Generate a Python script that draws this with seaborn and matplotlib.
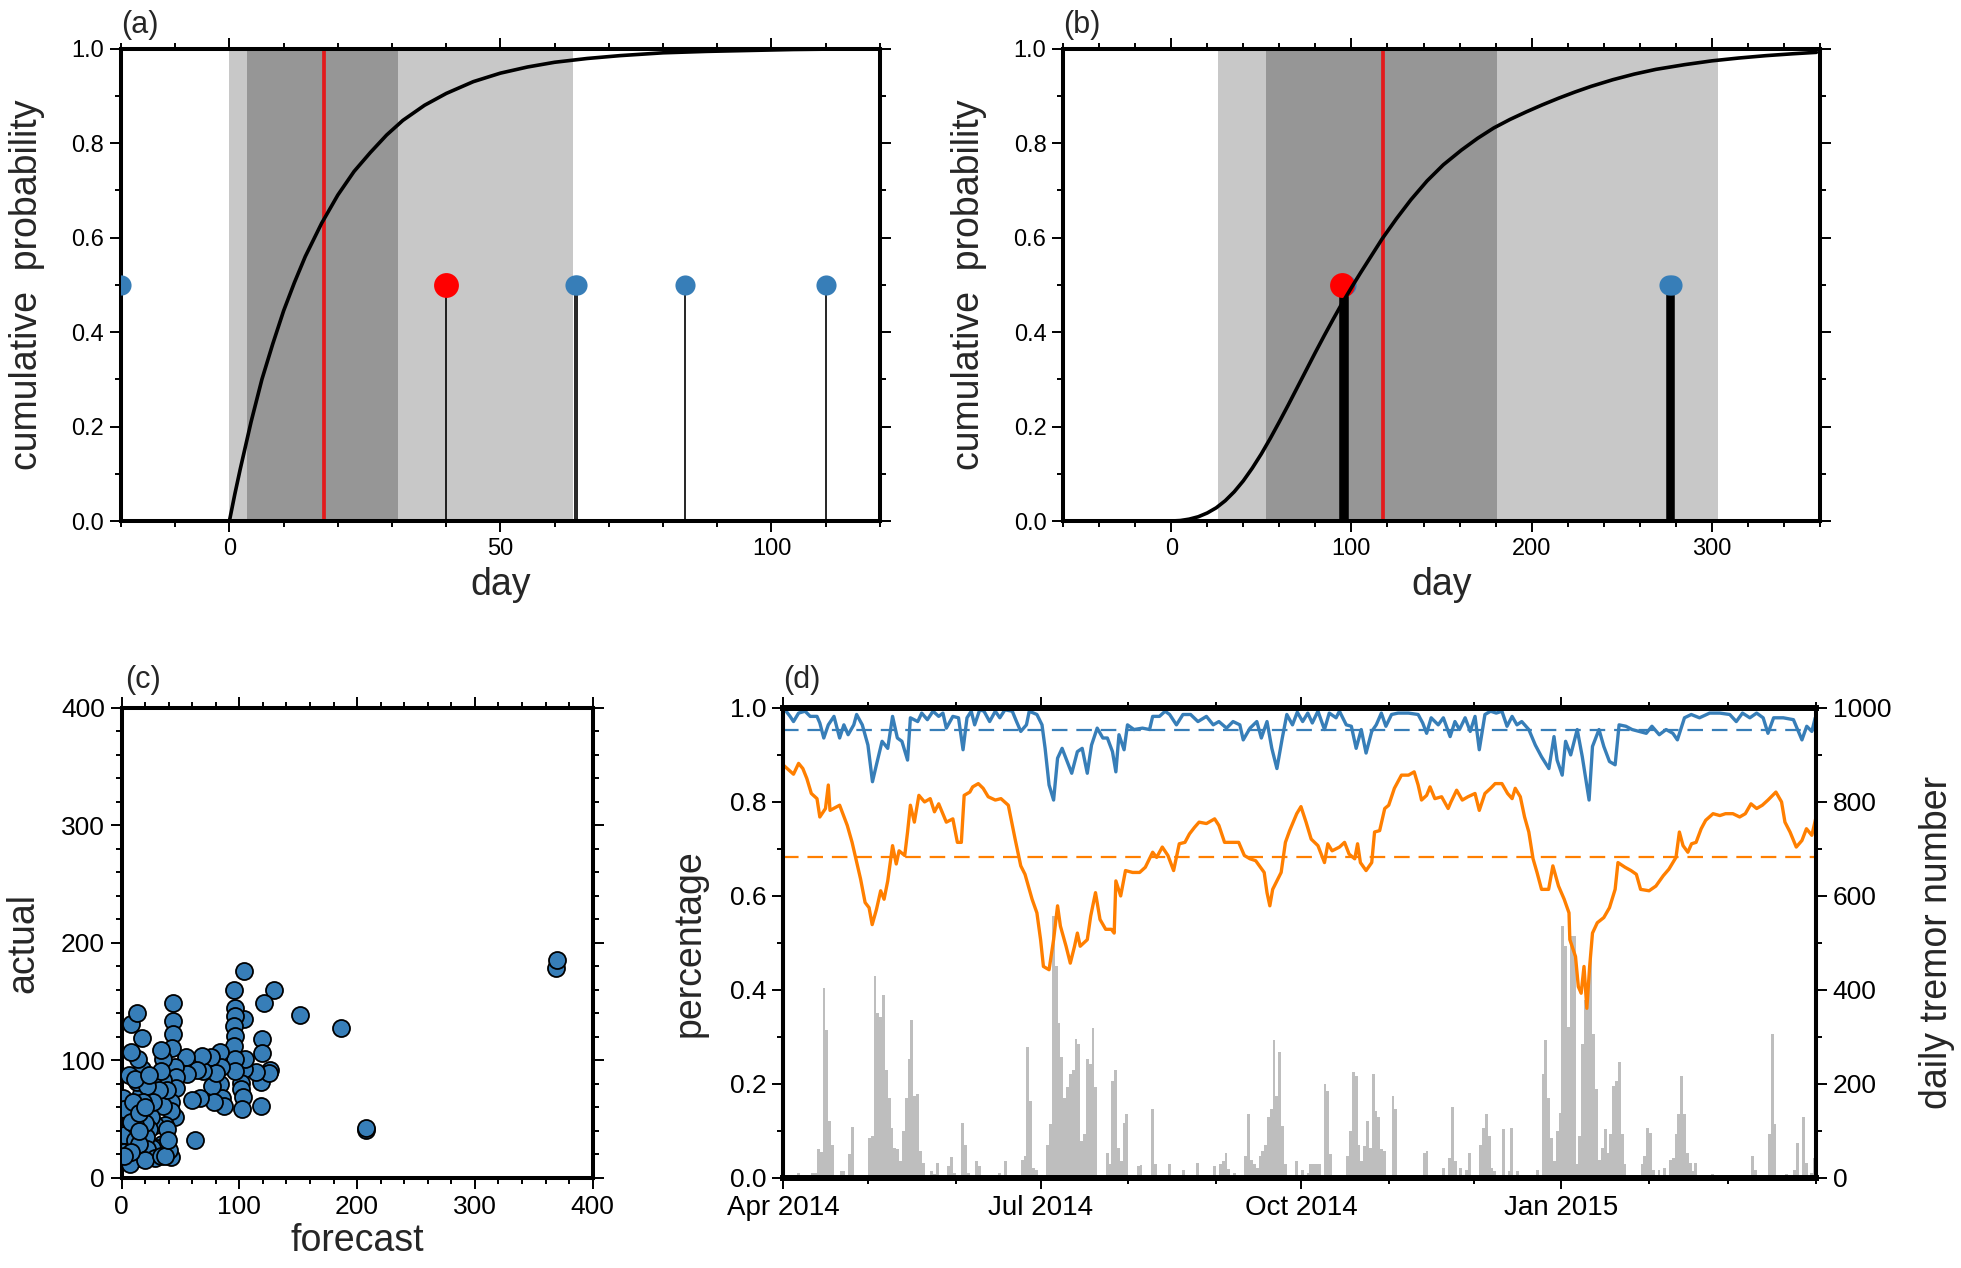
import numpy as np
import pandas as pd
import seaborn as sns
import matplotlib
matplotlib.use('Agg')
import matplotlib.pyplot as plt
import matplotlib.dates as mdates
from matplotlib.ticker import MultipleLocator, FormatStrFormatter, FixedLocator

# ---------------- data ----------------
# (a) forecast CDF and events
cdf_a_day = [-20, 0, 1, 2, 3, 4, 6, 8, 10, 12, 14, 17, 20, 23, 26, 29, 32, 36, 40, 45, 50, 55, 60, 66,
             72, 80, 88, 96, 104, 112]
cdf_a_prob = [0, 0, .057, .11, .16, .21, .30, .375, .445, .505, .56, .63, .69, .74, .78, .817, .848, .88,
              .905, .93, .948, .961, .971, .979, .985, .991, .994, .996, .998, .999]
a_outer = (0, 63.4)
a_inner = (3.2, 31.1)
a_median = 17.4
a_obs_day = [-20, 63.8, 64.2, 84, 110]
a_next_day = [40]

# (b) forecast CDF and events
cdf_b_day = [-60, 0, 5, 10, 15, 20, 25, 30, 35, 40, 45, 50, 55, 60, 65, 70, 75, 80, 85, 90, 95, 100, 105,
             110, 117, 125, 133, 142, 151, 161, 170, 179, 188, 197, 206, 215, 224, 233, 245, 257, 269, 285,
             300, 315, 330, 345, 358]
cdf_b_prob = [0, 0, .001, .004, .009, .017, .028, .043, .062, .085, .112, .142, .175, .21, .246, .283, .32,
              .357, .393, .428, .462, .494, .525, .555, .597, .64, .68, .72, .754, .785, .81, .832, .85,
              .866, .881, .895, .908, .92, .934, .946, .956, .966, .974, .980, .985, .989, .992]
b_outer = (26, 303.6)
b_inner = (52.8, 180.6)
b_median = 117.3
b_obs_day = [97, 276, 278]
b_next_day = [95]

# (c) forecast vs actual
forecast = [368.8, 369.5, 207.4, 207.8, 186.3, 151.3, 129.5, 103.9, 121.2, 95.6, 103.9, 96.6, 96, 95.2, 96,
            95.2, 119, 119, 118.4, 118.4, 126.4, 125.4, 114.2, 103.9, 101, 101.8, 103.2, 102.2, 104.6, 96,
            96, 83.8, 84.8, 83.8, 85.5, 86.6, 76.9, 76.2, 78.6, 80.4, 68.9, 68.2, 66.5, 64, 59.6, 54.7,
            55.4, 62, 43.6, 43.6, 43.6, 42.9, 45.7, 46.4, 46.4, 45.7, 42.3, 42.3, 41.6, 40.5, 35.3, 35.3,
            35.3, 37, 34.6, 30.1, 28.4, 25.6, 24.9, 24.9, 25.6, 23.2, 20.8, 19.7, 16.3, 16.3, 15.2, 12.8,
            17.3, 17, 13.9, 8.3, 8.3, 12.8, 5.9, 5.9, 5.9, 5.9, 5.9, 6.9, 1.4, 2.4, 2.4, 2.4, 11, 11, 21.5,
            14.5, 28.4, 19.7, 33.6, 37, 7.6, 38.8, 33.6, 31.9, 26.7, 21.5, 18, 10, 11, 33.6, 38.8, 39.5,
            23.2, 14.5, 15.2, 19.7, 7.6, 2.4]
actual = [178.4, 185.7, 40.8, 42.8, 128, 139, 160, 176, 148.8, 159.7, 135.6, 144.5, 138, 129, 121, 112.6,
          118, 106, 81.3, 60.9, 91.8, 89.6, 90.5, 92.8, 81, 75.4, 68.8, 58.3, 101, 101, 91, 107, 94.5,
          79.7, 68, 61, 78, 102.7, 64.9, 89.6, 91.2, 103.7, 68, 91.8, 66.5, 102.7, 88.6, 32.6, 148.8, 134,
          122.5, 111, 94.5, 86.3, 76.4, 51.7, 64.9, 56.6, 17.8, 23.7, 101, 83, 61.6, 45, 28.6, 25.3, 45,
          82, 66.5, 51.7, 25.3, 41.8, 35.2, 46.7, 58.3, 71.4, 17, 81.3, 92.8, 119, 101, 107.6, 130.7, 140,
          88, 55, 41.8, 33.6, 15.5, 12.2, 68, 58.3, 36.9, 22, 32, 45, 25, 28.6, 17, 15.5, 18.8, 18.8, 48,
          74.7, 91.2, 74.7, 64.9, 78, 64.9, 64.9, 84.6, 109.3, 41.8, 32, 88, 55, 40, 60, 22, 18.8]

# (d) days since 2014-04-01
start_date = '2014-04-01'
end_date = '2015-04-01'
orange_day = [0, 3.7, 5.5, 7, 8.4, 10, 12, 13, 15, 16, 16.6, 20, 22.7, 24.4, 27.4, 29, 30.4, 31.5, 33, 34.5,
              35.7, 37, 38.7, 40, 41, 43, 44, 45, 46.4, 48, 50, 52, 53.5, 55, 57.7, 60, 61.6, 63, 64, 66, 67,
              69, 70.7, 72.5, 75, 77, 79.6, 82, 84, 85.5, 88, 89.7, 91, 92, 94, 95.6, 97, 98, 100, 101.5, 103,
              104, 105, 107.5, 108.7, 110.4, 112, 114, 116, 117, 117.6, 119.3, 121, 123.5, 126, 128, 130.6,
              132, 134, 136, 138, 140, 142, 143.6, 145.4, 147, 149.6, 152.5, 154, 156, 158.5, 161, 163, 165,
              167, 170, 171, 172, 173, 176, 177.5, 179, 181.5, 183, 184.8, 186.6, 189, 191.3, 192.5, 194,
              196.6, 198.4, 200, 202, 203, 204, 206, 208, 209, 210.8, 212.6, 214, 216, 218.5, 221, 223, 224.4,
              225.6, 227.4, 228.6, 230.3, 232.7, 235, 236, 238, 240, 242, 244.5, 246, 248, 250, 251.6, 254,
              256, 257.6, 258.7, 260.5, 262, 263.5, 265, 266.4, 268, 270.5, 272, 274, 276, 277.7, 278, 280,
              281, 282, 283, 284, 285, 286, 287.7, 290, 292, 294, 295, 297.5, 299.6, 301.5, 303, 306, 308.4,
              311, 313, 315.5, 316.7, 318, 319.7, 321, 322.6, 324.4, 326, 328.6, 331, 333, 335.6, 338, 340,
              342, 344, 346, 348, 350.8, 352.8, 354, 355.8, 358, 360, 361.6, 363.5, 365]
orange_pct = [.879, .859, .882, .871, .85, .818, .807, .768, .786, .836, .782, .793, .75, .714, .636, .586,
              .575, .539, .571, .611, .593, .632, .707, .668, .696, .686, .736, .793, .757, .814, .80, .807,
              .779, .796, .757, .764, .714, .714, .814, .821, .832, .839, .829, .811, .804, .807, .793, .721,
              .664, .646, .593, .564, .507, .45, .443, .507, .579, .536, .493, .457, .493, .521, .493, .507,
              .557, .607, .55, .529, .529, .521, .632, .60, .654, .65, .65, .661, .693, .682, .704, .686,
              .654, .711, .714, .732, .746, .757, .754, .764, .75, .714, .714, .714, .686, .679, .675, .65,
              .607, .579, .614, .65, .714, .739, .775, .79, .757, .721, .707, .671, .711, .696, .704, .714,
              .689, .679, .711, .671, .654, .671, .736, .739, .786, .793, .829, .857, .857, .864, .836, .804,
              .814, .832, .807, .811, .786, .80, .825, .804, .811, .818, .782, .818, .829, .839, .839, .818,
              .807, .829, .811, .768, .736, .679, .65, .614, .614, .664, .621, .593, .564, .507, .471, .407,
              .393, .45, .361, .45, .521, .543, .554, .575, .614, .671, .661, .654, .646, .614, .611, .621,
              .643, .657, .682, .736, .707, .693, .711, .714, .743, .761, .775, .771, .775, .775, .768, .775,
              .796, .786, .793, .804, .821, .80, .757, .736, .704, .718, .743, .729, .768]
blue_day = [0.7, 2.5, 3.7, 5.5, 7.8, 9.6, 12, 13, 14.4, 16, 18, 20, 21.5, 23, 25, 26, 28, 30, 31.6, 33, 35,
            37, 38.7, 40.4, 42, 44, 45, 47.6, 49, 51, 53, 55, 56.5, 57.7, 60, 62, 63.6, 65, 66.5, 67.7, 69.5,
            71, 73, 75, 76.6, 78.4, 81, 82.5, 84, 86, 87, 89.7, 91.5, 92.6, 94, 95.6, 97, 98.6, 100.4, 102,
            104, 105.7, 107.5, 109, 111, 113, 114.6, 116.4, 117.6, 118.7, 120.5, 121.7, 124, 127, 129.5,
            130.6, 133, 135, 136.6, 139, 141.3, 144, 146.6, 149.6, 152, 154, 156.7, 159, 161.4, 162.6, 165,
            167.4, 169, 171, 172.7, 174.5, 176.4, 178, 180, 181.7, 183.6, 185.4, 187, 189, 191.3, 193,
            195.4, 196.6, 199, 200.8, 202.5, 204.3, 206, 208, 209.6, 211.4, 213, 215, 217.3, 221, 224.4,
            226, 227.4, 229, 231.5, 233.3, 235.7, 237.4, 239, 241, 242.8, 244.5, 246, 248, 250, 252, 254,
            255.8, 257.6, 259.3, 261, 263.5, 265.8, 268, 270.6, 272.4, 273.5, 275.3, 276.5, 278.3, 280.6,
            282.4, 283.6, 284.8, 286, 288.3, 290, 292, 294, 295.4, 297.8, 300, 302.5, 305, 307, 309.6, 312,
            314.4, 316, 318.5, 320.9, 323.8, 327.4, 331, 334.5, 336.8, 339, 341.6, 344, 346.3, 348, 350,
            353.4, 357, 360, 361.7, 363.5, 364.7]
blue_pct = [.996, .982, .971, .989, .993, .982, .982, .968, .936, .964, .982, .936, .964, .943, .964, .986,
            .964, .921, .843, .879, .929, .914, .982, .936, .929, .889, .979, .971, .989, .975, .993, .982,
            .989, .957, .982, .979, .911, .979, .993, .964, .996, .993, .971, .993, .979, .996, .993, .971,
            .95, .964, .993, .986, .964, .914, .836, .804, .893, .914, .886, .861, .907, .914, .861, .921,
            .957, .936, .936, .907, .864, .943, .911, .964, .954, .957, .954, .982, .982, .993, .986, .964,
            .986, .986, .971, .982, .964, .971, .957, .971, .964, .932, .957, .971, .936, .971, .914, .871,
            .936, .986, .964, .991, .971, .989, .968, .993, .954, .989, .979, .993, .964, .961, .914, .954,
            .904, .95, .964, .989, .961, .986, .989, .989, .986, .968, .946, .979, .964, .979, .939, .971,
            .954, .979, .95, .982, .911, .986, .993, .989, .993, .961, .982, .964, .971, .954, .921, .896,
            .871, .939, .889, .857, .929, .90, .954, .896, .85, .804, .918, .954, .918, .886, .879, .964,
            .961, .954, .95, .946, .961, .943, .954, .946, .932, .979, .986, .979, .989, .989, .986, .971,
            .989, .979, .989, .979, .946, .979, .979, .975, .932, .961, .95, .979]
blue_mean = 0.953
orange_mean = 0.682
tremor_day = [5, 10, 11, 12, 13, 14, 15, 16, 17, 20, 21, 23, 24, 26, 30, 31, 32, 33, 34, 35, 36, 37, 38, 39,
              40, 41, 42, 43, 44, 45, 46, 47, 48, 49, 52, 53, 54, 58, 59, 60, 63, 64, 65, 68, 69, 76, 78, 82,
              84, 85, 86, 87, 88, 89, 91, 93, 94, 95, 96, 97, 98, 99, 100, 101, 102, 103, 104, 105, 106, 107,
              108, 109, 110, 111, 114, 115, 116, 117, 118, 119, 120, 121, 122, 125, 126, 130, 131, 136, 139,
              141, 146, 152, 154, 155, 156, 157, 159, 163, 164, 165, 166, 167, 168, 169, 170, 171, 172, 173,
              174, 175, 176, 177, 179, 181, 183, 185, 186, 187, 188, 189, 191, 192, 193, 196, 199, 200, 201,
              202, 203, 204, 205, 206, 207, 208, 209, 210, 211, 212, 213, 215, 216, 218, 226, 227, 233, 235,
              236, 237, 239, 241, 242, 246, 247, 248, 249, 250, 251, 254, 256, 257, 259, 263, 266, 268, 269,
              270, 271, 272, 273, 274, 275, 276, 277, 278, 279, 280, 281, 282, 283, 284, 285, 286, 287, 288,
              289, 290, 291, 292, 293, 294, 295, 296, 297, 303, 304, 305, 306, 307, 309, 311, 313, 314, 315,
              316, 317, 318, 319, 320, 321, 322, 328, 335, 342, 343, 348, 349, 350, 351, 354, 357, 358, 360,
              361, 363, 364]
tremor_count = [11, 11, 11, 61, 55, 404, 314, 121, 71, 14, 14, 50, 109, 7, 86, 89, 430, 350, 343, 389, 229,
                171, 107, 64, 61, 36, 100, 171, 254, 336, 175, 179, 57, 32, 14, 8, 32, 25, 44, 10, 118, 71, 10,
                36, 25, 10, 36, 7, 39, 46, 279, 164, 21, 18, 7, 71, 114, 557, 450, 329, 257, 171, 193, 221,
                229, 296, 286, 79, 93, 254, 243, 318, 193, 7, 54, 29, 207, 229, 64, 36, 118, 136, 7, 25, 27,
                146, 29, 29, 7, 18, 32, 25, 29, 36, 54, 20, 10, 46, 136, 39, 29, 21, 46, 57, 71, 129, 146, 294,
                175, 268, 111, 29, 7, 36, 18, 11, 29, 29, 29, 29, 200, 186, 50, 7, 46, 100, 225, 218, 71, 36,
                68, 121, 64, 221, 143, 129, 61, 57, 7, 175, 146, 7, 54, 57, 21, 43, 150, 36, 21, 18, 54, 71,
                107, 136, 89, 21, 14, 104, 14, 107, 14, 7, 18, 221, 293, 171, 86, 36, 100, 139, 536, 493, 321,
                514, 514, 30, 89, 286, 379, 421, 486, 307, 189, 39, 64, 104, 54, 93, 196, 207, 246, 93, 29, 29,
                46, 107, 96, 18, 18, 21, 39, 43, 93, 136, 218, 136, 54, 32, 14, 32, 8, 7, 46, 18, 93, 307, 114,
                7, 8, 18, 75, 129, 32, 11, 43]

# ---------------- style ----------------
BLUE = '#377eb8'
ORANGE = '#ff7f00'
RED = '#ff0000'
LIGHT = '#c8c8c8'
DARK = '#969696'
BARGRAY = '#bebebe'

sns.set_style("ticks")
plt.rcParams['font.family'] = ['Liberation Sans', 'DejaVu Sans']
plt.rcParams['axes.edgecolor'] = 'black'
plt.rcParams['xtick.color'] = 'black'
plt.rcParams['ytick.color'] = 'black'

fig = plt.figure(figsize=(19.61, 12.68), dpi=100)
ax_a = fig.add_axes([0.0617, 0.5891, 0.3870, 0.3726])
ax_b = fig.add_axes([0.5421, 0.5891, 0.3860, 0.3726])
ax_c = fig.add_axes([0.0620, 0.0710, 0.2402, 0.3707])
ax_d = fig.add_axes([0.3993, 0.0710, 0.5268, 0.3707])


def frame(ax, size, lw=2.9, right=True):
    for s in ax.spines.values():
        s.set_linewidth(lw)
        s.set_visible(True)
    ax.tick_params(which='both', direction='out', top=True, right=right, width=1.4,
                   labelsize=size, pad=4)
    ax.tick_params(which='major', length=8)
    ax.tick_params(which='minor', length=4)


def cdf_panel(ax, day, prob, outer, inner, median, obs, nxt, stem_lw, xlim, xmaj, xmin, tag):
    ax.axvspan(*outer, color=LIGHT, lw=0, zorder=0)
    ax.axvspan(*inner, color=DARK, lw=0, zorder=0)
    ax.axvline(median, color='#e31a1c', lw=2.7, zorder=1)
    ev = list(obs) + list(nxt)
    ax.vlines(ev, 0, 0.5, color='black', lw=stem_lw, zorder=2)
    sns.scatterplot(x=obs, y=[0.5] * len(obs), ax=ax, color=BLUE, s=210, linewidth=0, zorder=3)
    sns.scatterplot(x=nxt, y=[0.5] * len(nxt), ax=ax, color=RED, s=320, linewidth=0, zorder=3)
    sns.lineplot(x=day, y=prob, ax=ax, color='black', lw=2.6, sort=False, estimator=None, zorder=4)
    ax.set_xlim(*xlim)
    ax.set_ylim(0, 1)
    ax.xaxis.set_major_locator(MultipleLocator(xmaj))
    ax.xaxis.set_minor_locator(MultipleLocator(xmin))
    ax.yaxis.set_major_locator(MultipleLocator(0.2))
    ax.yaxis.set_minor_locator(MultipleLocator(0.1))
    ax.yaxis.set_major_formatter(FormatStrFormatter('%.1f'))
    frame(ax, 17)
    ax.set_xlabel('day', fontsize=27)
    ax.set_ylabel('cumulative  probability', fontsize=27)
    ax.xaxis.set_label_coords(0.5, -0.098)
    ax.yaxis.set_label_coords(-0.100, 0.5)
    ax.text(0.0, 1.018, tag, transform=ax.transAxes, fontsize=22, ha='left', va='bottom')


cdf_panel(ax_a, cdf_a_day, cdf_a_prob, a_outer, a_inner, a_median, a_obs_day, a_next_day,
          1.2, (-20, 120), 50, 10, '(a)')
cdf_panel(ax_b, cdf_b_day, cdf_b_prob, b_outer, b_inner, b_median, b_obs_day, b_next_day,
          4.0, (-60, 360), 100, 20, '(b)')

# (c)
sns.scatterplot(x=forecast, y=actual, ax=ax_c, color=BLUE, s=150, edgecolor='black', linewidth=1.3,
                zorder=3)
ax_c.set_xlim(0, 400)
ax_c.set_ylim(0, 400)
for axis in (ax_c.xaxis, ax_c.yaxis):
    axis.set_major_locator(MultipleLocator(100))
    axis.set_minor_locator(MultipleLocator(20))
frame(ax_c, 19)
ax_c.set_xlabel('forecast', fontsize=27)
ax_c.set_ylabel('actual', fontsize=27)
ax_c.xaxis.set_label_coords(0.5, -0.096)
ax_c.yaxis.set_label_coords(-0.170, 0.5)
ax_c.text(0.007, 1.028, '(c)', transform=ax_c.transAxes, fontsize=22, ha='left', va='bottom')

# (d)
t0 = pd.Timestamp(start_date)
orange_t = t0 + pd.to_timedelta(orange_day, unit='D')
blue_t = t0 + pd.to_timedelta(blue_day, unit='D')
tremor_t = t0 + pd.to_timedelta(tremor_day, unit='D')

ax_r = ax_d.twinx()
ax_r.bar(tremor_t, tremor_count, width=1.0, align='edge', color=BARGRAY, lw=0)
ax_r.set_ylim(0, 1000)
ax_r.yaxis.set_major_locator(MultipleLocator(200))
ax_r.yaxis.set_minor_locator(MultipleLocator(100))
ax_r.tick_params(which='both', direction='out', width=1.4, labelsize=19, pad=4)
ax_r.tick_params(which='major', length=8)
ax_r.tick_params(which='minor', length=4)
for s in ax_r.spines.values():
    s.set_linewidth(2.9)
ax_r.set_ylabel('daily tremor number', fontsize=27)
ax_r.yaxis.set_label_coords(1.100, 0.5)

ax_d.set_zorder(ax_r.get_zorder() + 1)
ax_d.patch.set_visible(False)
ax_d.axhline(blue_mean, color=BLUE, lw=1.6, dashes=(7, 4), zorder=1)
ax_d.axhline(orange_mean, color=ORANGE, lw=1.6, dashes=(7, 4), zorder=1)
sns.lineplot(x=blue_t, y=blue_pct, ax=ax_d, color=BLUE, lw=2.4, estimator=None, zorder=2)
sns.lineplot(x=orange_t, y=orange_pct, ax=ax_d, color=ORANGE, lw=2.4, estimator=None, zorder=2)
ax_d.set_xlim(t0, pd.Timestamp(end_date))
ax_d.set_ylim(0, 1)
ax_d.yaxis.set_major_locator(MultipleLocator(0.2))
ax_d.yaxis.set_minor_locator(MultipleLocator(0.1))
ax_d.yaxis.set_major_formatter(FormatStrFormatter('%.1f'))
major_dates = pd.to_datetime(['2014-04-01', '2014-07-01', '2014-10-01', '2015-01-01'])
ax_d.xaxis.set_major_locator(FixedLocator(mdates.date2num(major_dates)))
ax_d.xaxis.set_minor_locator(mdates.MonthLocator())
ax_d.xaxis.set_major_formatter(mdates.DateFormatter('%b %Y'))
frame(ax_d, 19, right=False)
ax_d.tick_params(axis='x', labelsize=20)
ax_d.spines['top'].set_linewidth(4.3)
ax_d.spines['bottom'].set_linewidth(4.3)
ax_d.set_xlabel('')
ax_d.set_ylabel('percentage', fontsize=27)
ax_d.yaxis.set_label_coords(-0.073, 0.5)
ax_d.text(0.0, 1.028, '(d)', transform=ax_d.transAxes, fontsize=22, ha='left', va='bottom')

fig.savefig('out.png', dpi=100)
